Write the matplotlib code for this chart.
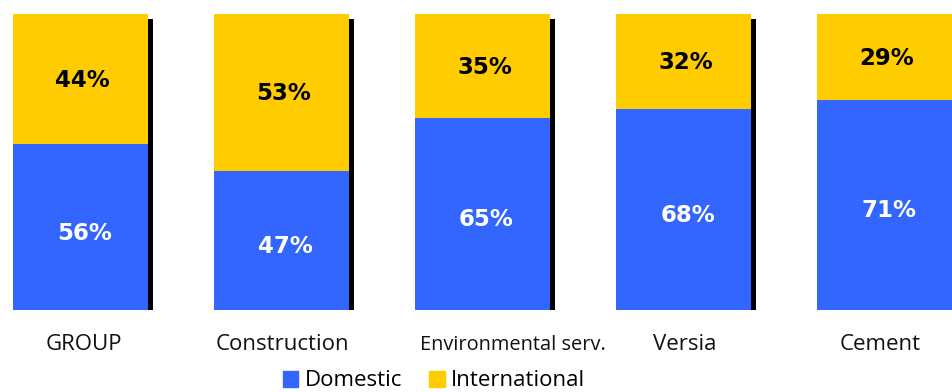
import numpy as np
import matplotlib.pyplot as plt
from matplotlib.patches import Patch

categories = ["GROUP", "Construction", "Environmental serv.", "Versia", "Cement"]
domestic = [56, 47, 65, 68, 71]
international = [44, 53, 35, 32, 29]

blue = "#3366FF"
yellow = "#FFCC00"

fig = plt.figure(figsize=(9.53, 3.92), dpi=100)
ax = fig.add_axes([0, 82 / 392, 1, 296 / 392])

x = np.arange(len(categories))
w = 0.672
sh = 0.025

# black drop shadow on the right of each bar
ax.bar(x + w / 2 + sh / 2, 98.6, width=sh, bottom=-0.4, color="black", zorder=1)
ax.bar(x, domestic, width=w, color=blue, zorder=2)
ax.bar(x, international, width=w, bottom=domestic, color=yellow, zorder=2)

for i in x:
    ax.text(i + 0.02, domestic[i] / 2 - 2, f"{domestic[i]}%", ha="center", va="center",
            color="white", fontsize=16.5, fontweight="bold", zorder=3)
    ax.text(i + 0.01, domestic[i] + international[i] / 2 - 0.5, f"{international[i]}%", ha="center",
            va="center", color="black", fontsize=16.5, fontweight="bold", zorder=3)

ax.set_xlim(-80.5 / 201, (953 - 80.5) / 201)
ax.set_ylim(0, 100)
ax.axis("off")

# label offsets as in the original slide
shift = [0.015, 0.005, 0.15, 0.005, -0.02]
for i, c in enumerate(categories):
    fs = 14.4 if c.startswith("Env") else 16
    ax.text(i + shift[i], -11.8, c, ha="center", va="center", fontsize=fs,
            family="Open Sans", color="#111111")

handles = [Patch(color=blue, label="Domestic"), Patch(color=yellow, label="International")]
fig.legend(handles=handles, loc="center", bbox_to_anchor=(434 / 953, 11 / 392), ncol=2,
           frameon=False, prop={"family": "Open Sans", "size": 16},
           handlelength=0.7, handleheight=0.7, handletextpad=0.3, columnspacing=1.2)

plt.savefig("out.png", dpi=100)
